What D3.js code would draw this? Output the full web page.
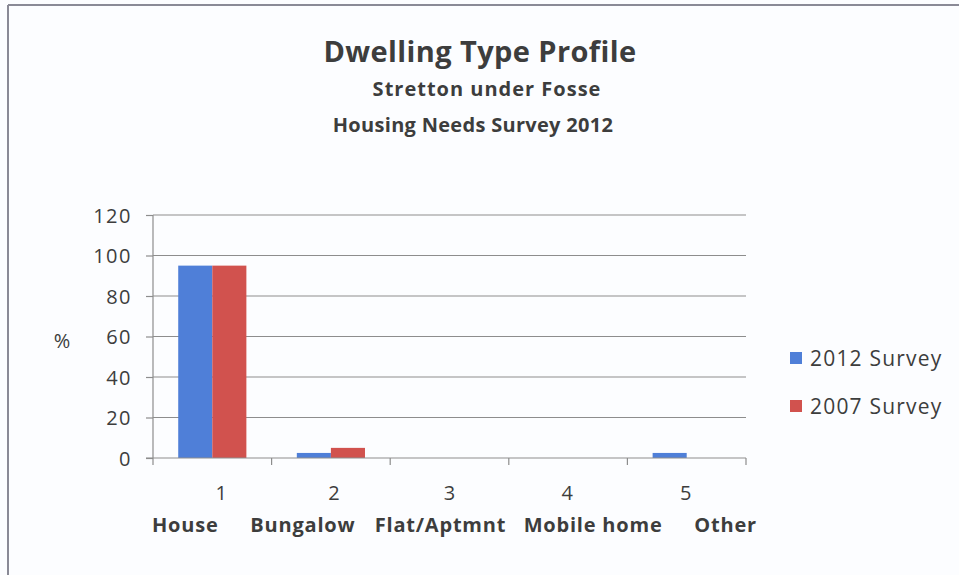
<!DOCTYPE html>
<html>
<head>
<meta charset="utf-8">
<script src="https://cdn.jsdelivr.net/npm/d3@7"></script>
<style>
  body { margin: 0; background: #fcfdff; }
  svg { display: block; font-family: "Open Sans", Lato, sans-serif; }
  svg text { font-family: "Open Sans", Lato, sans-serif; }
</style>
</head>
<body>
<div id="chart"></div>
<script>
var categories = ["1", "2", "3", "4", "5"];
var typeNames = ["House", "Bungalow", "Flat/Aptmnt", "Mobile home", "Other"];
var survey2012 = [95, 2.5, 0, 0, 2.5];
var survey2007 = [95, 5, 0, 0, 0];
var seriesNames = ["2012 Survey", "2007 Survey"];
var yTicks = [0, 20, 40, 60, 80, 100, 120];

var width = 959, height = 575;
var margin = {top: 215, left: 153, right: 213, bottom: 117};
var colors = ["#4f7fd8", "#d1524e"];
var textColor = "#3d3d3d";

var svg = d3.select("#chart").append("svg")
    .attr("width", width)
    .attr("height", height);

// frame lines (left & top only, like the scan)
svg.append("line").attr("x1", 8).attr("x2", width).attr("y1", 5).attr("y2", 5)
    .style("stroke", "#8a8a96").style("stroke-width", 2);
svg.append("line").attr("x1", 8).attr("x2", 8).attr("y1", 5).attr("y2", height)
    .style("stroke", "#8a8a96").style("stroke-width", 2);

// titles
svg.append("text").attr("x", 480).attr("y", 62)
    .attr("text-anchor", "middle").style("font-weight", "bold")
    .style("font-size", "29px").style("letter-spacing", "0.4px").style("fill", textColor)
    .text("Dwelling Type Profile");
svg.append("text").attr("x", 487).attr("y", 96)
    .attr("text-anchor", "middle").style("font-weight", "bold")
    .style("font-size", "20px").style("letter-spacing", "1px").style("fill", textColor)
    .text("Stretton under Fosse");
svg.append("text").attr("x", 473).attr("y", 132)
    .attr("text-anchor", "middle").style("font-weight", "bold")
    .style("font-size", "20px").style("letter-spacing", "0.3px").style("fill", textColor)
    .text("Housing Needs Survey 2012");

var x0 = d3.scaleBand()
    .domain(categories)
    .range([margin.left, width - margin.right]);
var x1 = d3.scaleBand()
    .domain(seriesNames)
    .range([0, x0.bandwidth()])
    .paddingOuter(0.74);
var y = d3.scaleLinear()
    .domain([0, 120])
    .range([height - margin.bottom, margin.top]);

// gridlines
var g = svg.append("g");
g.selectAll("line.grid")
  .data(yTicks.filter(function(d){ return d > 0; }))
  .enter().append("line")
  .attr("class", "grid")
  .attr("x1", margin.left).attr("x2", width - margin.right)
  .attr("y1", function(d){ return y(d); })
  .attr("y2", function(d){ return y(d); })
  .style("stroke", "#8d8d8d").style("stroke-width", 1.2);

// bars
var rows = categories.map(function(c, i){
  return {cat: c, vals: [survey2012[i], survey2007[i]]};
});
var groups = svg.selectAll("g.cat")
  .data(rows)
  .enter().append("g")
  .attr("class", "cat")
  .attr("transform", function(d){ return "translate(" + x0(d.cat) + ",0)"; });
groups.selectAll("rect")
  .data(function(d){ return d.vals.map(function(v, j){ return {s: seriesNames[j], v: v, j: j}; }); })
  .enter().append("rect")
  .attr("x", function(d){ return x1(d.s); })
  .attr("width", x1.bandwidth())
  .attr("y", function(d){ return y(d.v); })
  .attr("height", function(d){ return y(0) - y(d.v); })
  .style("fill", function(d){ return colors[d.j]; });

// y axis
var yAxis = d3.axisLeft(y).tickValues(yTicks).tickSize(7).tickPadding(14);
var ya = svg.append("g")
  .attr("transform", "translate(" + margin.left + ",0)")
  .call(yAxis)
  .attr("font-family", null).attr("font-size", null);
ya.select(".domain").remove();
ya.append("line").attr("x1", 0).attr("x2", 0)
  .attr("y1", y(0)).attr("y2", y(120))
  .style("stroke", "#8d8d8d").style("stroke-width", 1.2);
ya.selectAll(".tick line").style("stroke", "#8d8d8d").style("stroke-width", 1.2);
ya.selectAll(".tick text").style("font-size", "20px").style("letter-spacing", "1.5px")
  .style("fill", textColor).attr("dy", "0.36em");

// x axis
var xa = svg.append("g")
  .attr("transform", "translate(0," + y(0) + ")");
xa.append("line").attr("x1", margin.left - 7).attr("x2", width - margin.right)
  .attr("y1", 0).attr("y2", 0)
  .style("stroke", "#8d8d8d").style("stroke-width", 1.2);
var boundaries = categories.map(function(c){ return x0(c); }).concat([width - margin.right]);
xa.selectAll("line.tk")
  .data(boundaries)
  .enter().append("line")
  .attr("class", "tk")
  .attr("x1", function(d){ return d; }).attr("x2", function(d){ return d; })
  .attr("y1", 0).attr("y2", 7)
  .style("stroke", "#8d8d8d").style("stroke-width", 1.2);

var nameShift = [-27, -28, -9, 25, 39];
var numShift = [9, 3, 0, -1, -1];
xa.selectAll("text.num")
  .data(categories)
  .enter().append("text")
  .attr("class", "num")
  .attr("x", function(d, i){ return x0(d) + x0.bandwidth() / 2 + numShift[i]; })
  .attr("y", 42)
  .attr("text-anchor", "middle")
  .style("font-size", "20px").style("fill", textColor)
  .text(function(d){ return d; });
xa.selectAll("text.name")
  .data(typeNames)
  .enter().append("text")
  .attr("class", "name")
  .attr("x", function(d, i){ return x0(categories[i]) + x0.bandwidth() / 2 + nameShift[i]; })
  .attr("y", 74)
  .attr("text-anchor", "middle")
  .style("font-size", "20px").style("letter-spacing", "0.8px")
  .style("font-weight", "bold").style("fill", textColor)
  .text(function(d){ return d; });

// y title
svg.append("text").attr("x", 62).attr("y", 348)
  .attr("text-anchor", "middle")
  .style("font-size", "20px").style("fill", textColor)
  .text("%");

// legend
var legend = svg.selectAll("g.legend")
  .data(seriesNames)
  .enter().append("g")
  .attr("class", "legend")
  .attr("transform", function(d, i){ return "translate(790," + (352 + i * 48) + ")"; });
legend.append("rect").attr("width", 12).attr("height", 12)
  .style("fill", function(d, i){ return colors[i]; });
legend.append("text").attr("x", 20).attr("y", 6).attr("dy", "0.36em")
  .style("font-size", "21px").style("letter-spacing", "1.2px").style("fill", textColor)
  .text(function(d){ return d; });
</script>
</body>
</html>
